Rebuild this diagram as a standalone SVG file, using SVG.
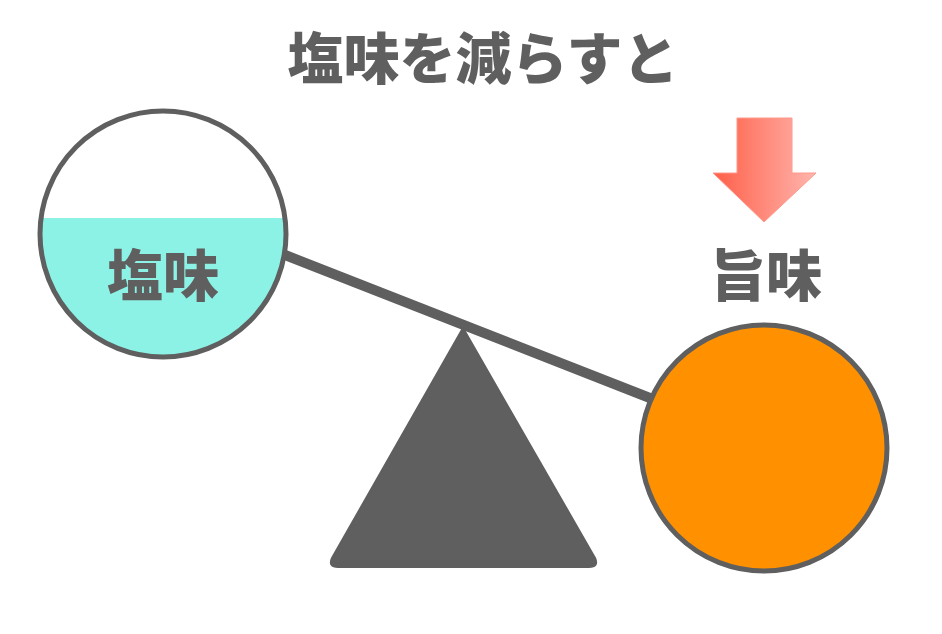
<svg xmlns="http://www.w3.org/2000/svg" width="942" height="634" viewBox="0 0 942 634">
<style>
.t{font-family:"Noto Sans CJK JP","Noto Sans CJK SC",sans-serif;font-weight:900;fill:#5f5f5f;text-anchor:middle}
.ring{stroke:#5f5f5f;stroke-width:5}
</style>
<defs>
<linearGradient id="ag" x1="0" y1="0" x2="1" y2="0">
<stop offset="0" stop-color="#ff5f48"/>
<stop offset="1" stop-color="#ffb5ae"/>
</linearGradient>
<clipPath id="lc"><circle cx="163" cy="234" r="123"/></clipPath>
</defs>
<rect width="942" height="634" fill="#fff"/>
<text class="t" x="483" y="79" font-size="56">塩味を減らすと</text>
<g id="connectors">
<line x1="280" y1="253" x2="655" y2="400" stroke="#5f5f5f" stroke-width="10"/>
</g>
<g id="fulcrum">
<path d="M463,328 L595,558 Q599,567 589,567 L338,567 Q328,567 332,558 Z" fill="#5f5f5f" stroke="#5f5f5f" stroke-width="2" stroke-linejoin="round"/>
</g>
<g id="salt">
<circle cx="163" cy="234" r="123" fill="#fff"/>
<rect x="30" y="218" width="270" height="150" fill="#8cf2e5" clip-path="url(#lc)"/>
<circle cx="163" cy="234" r="123" fill="none" class="ring"/>
<text class="t" x="163" y="296" font-size="56">塩味</text>
</g>
<g id="umami">
<circle cx="764" cy="448" r="123" fill="#ff9100" class="ring"/>
<text class="t" x="766" y="296" font-size="56">旨味</text>
</g>
<g id="arrow">
<path d="M737,118 L792,118 L792,173 L816,173 L764,222 L713,173 L737,173 Z" fill="url(#ag)" stroke="#ff9a8c" stroke-width="1"/>
</g>
</svg>
